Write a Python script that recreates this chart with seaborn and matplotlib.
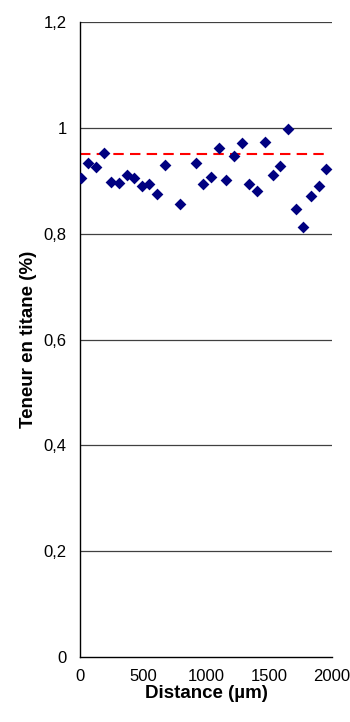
import pandas as pd
import matplotlib
matplotlib.use('Agg')
import matplotlib.pyplot as plt
from matplotlib.ticker import FuncFormatter
import seaborn as sns

# Distances (µm) et teneurs en titane (%)
distance = [5, 66, 127, 188, 249, 310, 371, 431, 490, 550, 614, 675, 797,
            919, 980, 1040, 1104, 1162, 1223, 1286, 1345, 1408, 1469, 1530,
            1590, 1651, 1712, 1773, 1836, 1895, 1955]
teneur = [0.906, 0.933, 0.926, 0.953, 0.897, 0.895, 0.911, 0.905, 0.891,
          0.893, 0.875, 0.929, 0.857, 0.934, 0.893, 0.907, 0.962, 0.902,
          0.946, 0.971, 0.893, 0.880, 0.974, 0.911, 0.928, 0.998, 0.847,
          0.813, 0.871, 0.890, 0.923]
reference_x = [0, 1950]
reference_y = [0.95, 0.95]

df = pd.DataFrame({'distance': distance, 'teneur': teneur})
ref = pd.DataFrame({'x': reference_x, 'y': reference_y})

sns.set_style('white')
plt.rcParams['font.family'] = ['Liberation Sans', 'DejaVu Sans']
plt.rcParams['text.color'] = 'black'
plt.rcParams['axes.labelcolor'] = 'black'

fig = plt.figure(figsize=(3.5, 7.22), dpi=100)
ax = fig.add_axes([0.2286, 0.09, 0.72, 0.8795])

for v in [0.2, 0.4, 0.6, 0.8, 1.0, 1.2]:
    ax.axhline(v, color='#404040', lw=0.9, zorder=0)

sns.lineplot(data=ref, x='x', y='y', color='#ff0000', lw=1.5,
             linestyle=(0, (5, 3)), ax=ax, zorder=2)
sns.scatterplot(data=df, x='distance', y='teneur', marker='D', s=36,
                color='#000080', edgecolor='#000080', linewidth=0, ax=ax,
                zorder=3)

ax.set_xlim(0, 2000)
ax.set_ylim(0, 1.2)
ax.set_xticks([0, 500, 1000, 1500, 2000])
ax.set_yticks([0, 0.2, 0.4, 0.6, 0.8, 1.0, 1.2])
ax.yaxis.set_major_formatter(FuncFormatter(lambda v, p: ('%g' % round(v, 1)).replace('.', ',')))

for s in ['top', 'right']:
    ax.spines[s].set_visible(False)
for s in ['left', 'bottom']:
    ax.spines[s].set_color('black')
    ax.spines[s].set_linewidth(1.0)

ax.tick_params(axis='both', direction='out', length=3.5, width=1, color='black',
               labelsize=12, labelcolor='black')
ax.tick_params(axis='y', pad=6)
ax.tick_params(axis='x', pad=5)
ax.set_xlabel('Distance (µm)', fontsize=13.5, fontweight='bold', labelpad=1,
              color='black')
ax.set_ylabel('Teneur en titane (%)', fontsize=13.5, fontweight='bold', labelpad=5,
              color='black')

fig.savefig('out.png', dpi=100)
